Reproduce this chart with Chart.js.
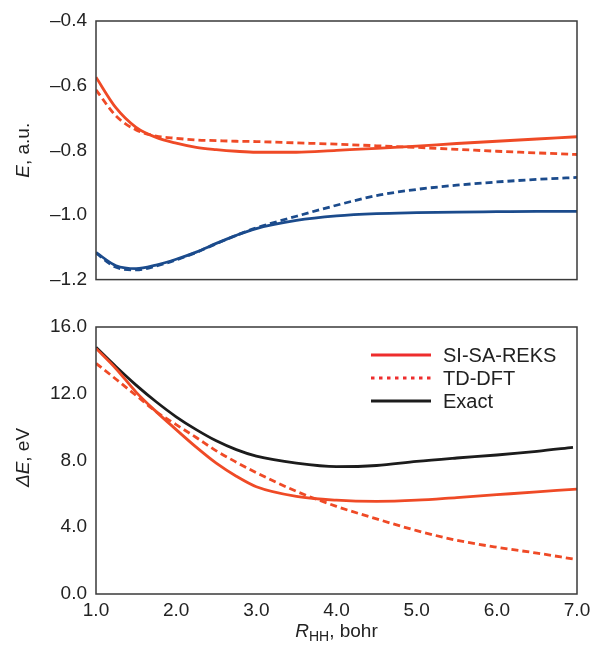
<!DOCTYPE html>
<html>
<head>
<meta charset="utf-8">
<script src="https://cdn.jsdelivr.net/npm/chart.js@4.4.1/dist/chart.umd.min.js"></script>
<style>
  body { margin: 0; background: #fff; }
  #wrap { position: relative; width: 594px; height: 655px; }
  #energy-chart { position: absolute; left: 0; top: 0; }
  #gap-chart { position: absolute; left: 0; top: 300px; }
</style>
</head>
<body>
<div id="wrap">
  <canvas id="energy-chart" width="594" height="300"></canvas>
  <canvas id="gap-chart" width="594" height="355"></canvas>
</div>
<script>
// H–H distance grid (bohr)
const R_FULL = [1.0, 1.25, 1.5, 1.75, 2.0, 2.25, 2.5, 2.75, 3.0, 3.5, 4.0, 4.5, 5.0, 5.5, 6.0, 6.5, 7.0];
const R_SHORT = [1.0, 1.25, 1.5, 1.75, 2.0, 2.25, 2.5, 2.75, 3.0, 3.5, 4.0, 4.5, 5.0, 5.5, 6.0, 6.5, 6.95];

// total energies, a.u.
const E_S1_REKS = [-0.574, -0.669, -0.729, -0.760, -0.778, -0.791, -0.798, -0.803, -0.806, -0.806, -0.800, -0.794, -0.787, -0.779, -0.772, -0.765, -0.758];
const E_S1_TDDFT = [-0.613, -0.694, -0.737, -0.756, -0.763, -0.768, -0.770, -0.772, -0.773, -0.777, -0.781, -0.786, -0.791, -0.797, -0.803, -0.808, -0.813];
const E_S0_REKS = [-1.116, -1.157, -1.166, -1.155, -1.137, -1.115, -1.088, -1.063, -1.042, -1.017, -1.003, -0.996, -0.993, -0.991, -0.990, -0.989, -0.989];
const E_S0_TDDFT = [-1.118, -1.162, -1.170, -1.158, -1.139, -1.116, -1.089, -1.063, -1.040, -1.004, -0.970, -0.940, -0.921, -0.908, -0.898, -0.890, -0.884];

// excitation energies, eV
const DE_REKS = [14.72, 13.50, 12.10, 10.93, 9.85, 8.80, 7.84, 7.06, 6.43, 5.85, 5.62, 5.55, 5.62, 5.78, 5.95, 6.12, 6.29];
const DE_TDDFT = [13.82, 12.87, 11.90, 10.93, 10.15, 9.38, 8.58, 7.90, 7.27, 6.15, 5.25, 4.50, 3.80, 3.22, 2.80, 2.45, 2.10];
const DE_EXACT = [14.78, 13.62, 12.52, 11.52, 10.62, 9.85, 9.18, 8.65, 8.26, 7.84, 7.63, 7.70, 7.95, 8.15, 8.33, 8.55, 8.79];

const X_TICKS = [1, 2, 3, 4, 5, 6, 7];
const E_TICKS = [-1.2, -1.0, -0.8, -0.6, -0.4];
const DE_TICKS = [0, 4, 8, 12, 16];

const RED = '#ef4a26';
const RED_KEY = '#ee2d2d';
const BLUE = '#1b4b8c';
const BLACK = '#1c1c1c';
const FONT_FAMILY = '"Liberation Sans", Arial, Helvetica, sans-serif';
const TICK_FONT = { family: FONT_FAMILY, size: 19 };

function pts(xs, ys) {
    return xs.map((x, i) => ({ x: x, y: ys[i] }));
}

function fmt(v) {
    const s = Math.abs(v).toFixed(1);
    return v < 0 ? '\u2013' + s : s;
}

function line(label, xs, ys, color, dashed, extra) {
    return Object.assign({
        label: label,
        data: pts(xs, ys),
        borderColor: color,
        borderWidth: 2.8,
        borderDash: dashed ? [7, 4] : [],
        pointRadius: 0,
        fill: false,
        cubicInterpolationMode: 'monotone'
    }, extra || {});
}

// draws a run of text pieces (some italic / subscript) starting at x
function drawRich(ctx, parts, x, y) {
    parts.forEach(p => {
        ctx.font = (p.italic ? 'italic ' : '') + (p.size || 19) + 'px ' + FONT_FAMILY;
        ctx.fillText(p.text, x, y + (p.dy || 0));
        x += ctx.measureText(p.text).width;
    });
}

function richWidth(ctx, parts) {
    let w = 0;
    parts.forEach(p => {
        ctx.font = (p.italic ? 'italic ' : '') + (p.size || 19) + 'px ' + FONT_FAMILY;
        w += ctx.measureText(p.text).width;
    });
    return w;
}

const framePlugin = {
    id: 'frame',
    afterDatasetsDraw(chart) {
        const { ctx, chartArea: a } = chart;
        ctx.save();
        ctx.strokeStyle = '#3a3a3a';
        ctx.lineWidth = 1.5;
        ctx.strokeRect(a.left, a.top, a.right - a.left, a.bottom - a.top);
        ctx.restore();
    }
};

const axisTitlePlugin = {
    id: 'axisTitles',
    afterDraw(chart, args, opts) {
        const { ctx, chartArea: a } = chart;
        ctx.save();
        ctx.fillStyle = '#222';
        ctx.textBaseline = 'middle';
        if (opts.y) {
            ctx.save();
            ctx.translate(24, (a.top + a.bottom) / 2 + (opts.yShift || 0));
            ctx.rotate(-Math.PI / 2);
            drawRich(ctx, opts.y, -richWidth(ctx, opts.y) / 2, 0);
            ctx.restore();
        }
        if (opts.x) {
            ctx.textBaseline = 'alphabetic';
            const cx = (a.left + a.right) / 2;
            drawRich(ctx, opts.x, cx - richWidth(ctx, opts.x) / 2, opts.xBaseline);
        }
        ctx.restore();
    }
};

const keyPlugin = {
    id: 'key',
    afterDraw(chart) {
        const ctx = chart.ctx;
        ctx.save();
        chart.data.datasets.forEach((ds, i) => {
            const y = 55 + i * 23;
            ctx.strokeStyle = ds.keyColor || ds.borderColor;
            ctx.lineWidth = 3;
            ctx.setLineDash(ds.keyDash || []);
            ctx.beginPath();
            ctx.moveTo(371, y);
            ctx.lineTo(431, y);
            ctx.stroke();
            ctx.setLineDash([]);
            ctx.fillStyle = '#222';
            ctx.font = '20px ' + FONT_FAMILY;
            ctx.textBaseline = 'middle';
            ctx.fillText(ds.label, 443, y + 1);
        });
        ctx.restore();
    }
};

function yScale(min, max, tickValues) {
    return {
        min: min,
        max: max,
        afterFit: s => { s.width = 96; },
        afterBuildTicks: s => { s.ticks = tickValues.map(v => ({ value: v })); },
        grid: { display: false, drawTicks: false },
        border: { display: false },
        ticks: { padding: 9, font: TICK_FONT, color: '#222', callback: v => fmt(v) }
    };
}

new Chart(document.getElementById('energy-chart'), {
    type: 'line',
    data: {
        datasets: [
            line('SI-SA-REKS S1', R_FULL, E_S1_REKS, RED, false),
            line('TD-DFT S1', R_FULL, E_S1_TDDFT, RED, true),
            line('SI-SA-REKS S0', R_FULL, E_S0_REKS, BLUE, false),
            line('TD-DFT S0', R_FULL, E_S0_TDDFT, BLUE, true)
        ]
    },
    options: {
        responsive: false,
        animation: false,
        layout: { padding: { top: 21, right: 17, bottom: 11, left: 0 } },
        plugins: {
            legend: { display: false },
            tooltip: { enabled: false },
            axisTitles: { y: [{ text: 'E', italic: true }, { text: ', a.u.' }] }
        },
        scales: {
            x: { type: 'linear', min: 1, max: 7, display: false },
            y: yScale(-1.2, -0.4, E_TICKS)
        }
    },
    plugins: [framePlugin, axisTitlePlugin]
});

new Chart(document.getElementById('gap-chart'), {
    type: 'line',
    data: {
        datasets: [
            line('SI-SA-REKS', R_FULL, DE_REKS, RED, false, { keyColor: RED_KEY }),
            line('TD-DFT', R_SHORT, DE_TDDFT, RED, true, { keyColor: RED_KEY, keyDash: [3.5, 4.5] }),
            line('Exact', R_SHORT, DE_EXACT, BLACK, false)
        ]
    },
    options: {
        responsive: false,
        animation: false,
        layout: { padding: { top: 27, right: 17, bottom: 0, left: 0 } },
        plugins: {
            legend: { display: false },
            tooltip: { enabled: false },
            axisTitles: {
                y: [{ text: '\u0394E', italic: true }, { text: ', eV' }],
                yShift: -3,
                x: [{ text: 'R', italic: true }, { text: 'HH', size: 14, dy: 4 }, { text: ', bohr' }],
                xBaseline: 337
            }
        },
        scales: {
            x: {
                type: 'linear',
                min: 1,
                max: 7,
                afterFit: s => { s.height = 61; s.paddingLeft = 0; s.paddingRight = 0; },
                afterBuildTicks: s => { s.ticks = X_TICKS.map(v => ({ value: v })); },
                grid: { display: false, drawTicks: false },
                border: { display: false },
                ticks: { padding: 5, font: TICK_FONT, color: '#222', maxRotation: 0, autoSkip: false, callback: v => fmt(v) }
            },
            y: yScale(0, 16, DE_TICKS)
        }
    },
    plugins: [framePlugin, axisTitlePlugin, keyPlugin]
});
</script>
</body>
</html>
